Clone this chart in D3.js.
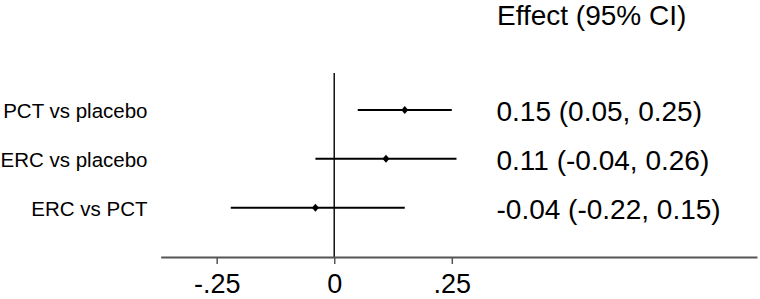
<!DOCTYPE html>
<html>
<head>
<meta charset="utf-8">
<script src="https://cdn.jsdelivr.net/npm/d3@7"></script>
<style>
  body { margin: 0; background: #fff; }
  svg { display: block; font-family: "Liberation Sans", Arial, sans-serif; }
</style>
</head>
<body>
<svg id="chart" width="760" height="299"></svg>
<script>
// forest plot data
var comparisons = ["PCT vs placebo", "ERC vs placebo", "ERC vs PCT"];
var effects = [0.15, 0.11, -0.04];
var lower = [0.05, -0.04, -0.22];
var upper = [0.25, 0.26, 0.15];
var ciLabels = ["0.15 (0.05, 0.25)", "0.11 (-0.04, 0.26)", "-0.04 (-0.22, 0.15)"];
var tickVals = [-0.25, 0, 0.25];
var header = "Effect (95% CI)";

var rows = comparisons.map((c, i) => ({
  name: c, est: effects[i], lo: lower[i], hi: upper[i], lab: ciLabels[i]
}));

const svg = d3.select("#chart");

const x = d3.scaleLinear()
    .domain([-0.369, 0.899])
    .range([160.7, 757]);

const y = d3.scalePoint()
    .domain(comparisons)
    .range([110, 207.7]);

const axisY = 257;

// zero line
svg.append("line")
    .attr("x1", x(0)).attr("x2", x(0))
    .attr("y1", 73).attr("y2", axisY)
    .attr("stroke", "#111")
    .attr("stroke-width", 1.5);

// axis, stata style labels (-.25, 0, .25)
const ax = svg.append("g")
    .attr("transform", `translate(0,${axisY})`)
    .call(d3.axisBottom(x)
        .tickValues(tickVals)
        .tickSize(7)
        .tickSizeOuter(0)
        .tickPadding(0)
        .tickFormat(d => d === 0 ? "0" : String(d).replace("0.", ".")));
ax.select(".domain").attr("stroke", "#555").attr("stroke-width", 2);
ax.selectAll(".tick line").attr("stroke", "#555").attr("stroke-width", 1.5);
ax.selectAll(".tick text")
    .attr("fill", "#000")
    .attr("y", 36)
    .attr("dy", null)
    .style("font-size", "27px")
    .style("font-family", "'Liberation Sans', Arial, sans-serif");

// confidence intervals
const g = svg.append("g");
g.selectAll("line.ci")
  .data(rows)
  .join("line")
    .attr("class", "ci")
    .attr("x1", d => x(d.lo))
    .attr("x2", d => x(d.hi))
    .attr("y1", d => y(d.name))
    .attr("y2", d => y(d.name))
    .attr("stroke", "#000")
    .attr("stroke-width", 2);

g.selectAll("path.pt")
  .data(rows)
  .join("path")
    .attr("class", "pt")
    .attr("transform", d => `translate(${x(d.est)},${y(d.name)})`)
    .attr("d", "M0,-4L3.5,0L0,4L-3.5,0Z")
    .attr("fill", "#000");

// row labels
svg.append("g").selectAll("text")
  .data(rows)
  .join("text")
    .attr("x", 147.5)
    .attr("y", d => y(d.name) + 8)
    .attr("text-anchor", "end")
    .style("font-size", "20.5px")
    .text(d => d.name);

// estimate labels
svg.append("g").selectAll("text")
  .data(rows)
  .join("text")
    .attr("x", 496.5)
    .attr("y", d => y(d.name) + 11)
    .style("font-size", "28px")
    .text(d => d.lab);

svg.append("text")
    .attr("x", 497)
    .attr("y", 25)
    .style("font-size", "28px")
    .text(header);
</script>
</body>
</html>
